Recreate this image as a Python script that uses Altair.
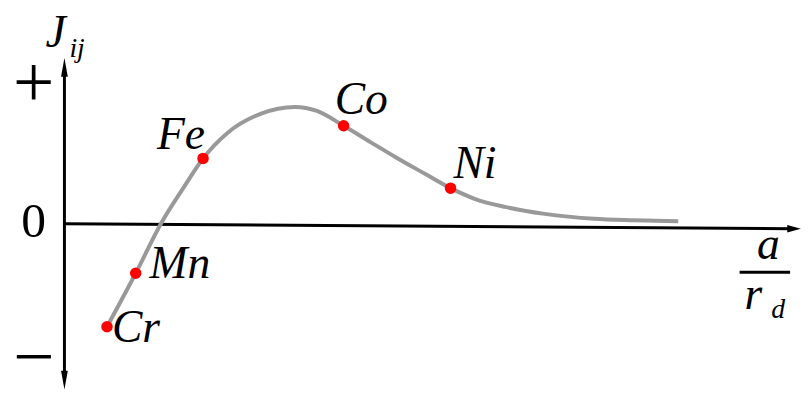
import altair as alt
import pandas as pd

# Bethe–Slater curve (arbitrary units: a/r_d across, J_ij up)
curve_x = [0.42, 0.71, 0.97, 1.19, 1.39, 1.64, 1.97, 2.32, 2.54, 2.81,
           3.09, 3.34, 3.64, 3.89, 4.14, 4.44, 4.84, 5.34, 5.74, 6.19]
curve_y = [-1.05, -0.51, 0.00, 0.35, 0.65, 0.91, 1.10, 1.17, 1.13, 0.98,
           0.81, 0.66, 0.49, 0.35, 0.24, 0.16, 0.09, 0.04, 0.025, 0.015]

elements = ["Cr", "Mn", "Fe", "Co", "Ni"]
elem_x = [0.42, 0.71, 1.39, 2.81, 3.89]
elem_y = [-1.05, -0.51, 0.65, 0.98, 0.35]

W, H = 801, 386
XS = alt.Scale(domain=[-0.58, 7.43], nice=False, zero=False)
YS = alt.Scale(domain=[-1.71, 2.15], nice=False, zero=False)
FONT_IT = "Nimbus Roman"
FONT = "Liberation Serif"


def X(f="u"):
    return alt.X(f"{f}:Q", scale=XS, axis=None)


def Y(f="v"):
    return alt.Y(f"{f}:Q", scale=YS, axis=None)


curve_df = pd.DataFrame({"u": curve_x, "v": curve_y})
elem_df = pd.DataFrame({"u": elem_x, "v": elem_y, "name": elements})

curve = alt.Chart(curve_df).mark_line(
    color="#999999", strokeWidth=4, interpolate="monotone", strokeCap="butt"
).encode(x=X(), y=Y())

dots = alt.Chart(elem_df).mark_point(
    filled=True, opacity=1, color="#ff0000", size=135, shape="circle"
).encode(x=X(), y=Y())

# label offsets (pixels) relative to each point
offsets = {
    "Cr": dict(align="left", dx=5, dy=15),
    "Mn": dict(align="left", dx=14, dy=5),
    "Fe": dict(align="right", dx=2, dy=-10),
    "Co": dict(align="left", dx=-9, dy=-12),
    "Ni": dict(align="left", dx=3, dy=-10),
}
labels = []
for name, o in offsets.items():
    labels.append(
        alt.Chart(elem_df).transform_filter(alt.datum.name == name).mark_text(
            font=FONT_IT, fontSize=46, fontStyle="italic", baseline="alphabetic",
            color="black", **o
        ).encode(x=X(), y=Y(), text="name:N")
    )

# axes
xaxis = alt.Chart(pd.DataFrame({"u": [-0.01], "u2": [7.33], "v": [-0.01], "v2": [-0.06]})).mark_rule(
    color="black", strokeWidth=3
).encode(x=X(), x2="u2:Q", y=Y(), y2="v2:Q")
yaxis = alt.Chart(pd.DataFrame({"u": [-0.01], "v": [-1.52], "v2": [1.50]})).mark_rule(
    color="black", strokeWidth=3
).encode(x=X(), y=Y(), y2="v2:Q")

UP = "M0,-1L0.36,1L-0.36,1Z"
DOWN = "M0,1L0.36,-1L-0.36,-1Z"
RIGHT = "M1,0L-1,0.55L-1,-0.55Z"


def head(u, v, shape, size):
    return alt.Chart(pd.DataFrame({"u": [u], "v": [v]})).mark_point(
        shape=shape, size=size, filled=True, opacity=1, color="black", strokeWidth=0
    ).encode(x=X(), y=Y())


heads = [
    head(-0.01, 1.57, UP, 360),
    head(-0.01, -1.59, DOWN, 360),
    head(7.36, -0.06, RIGHT, 190),
]


def txt(s, u, v, size, align="left", italic=True):
    return alt.Chart(pd.DataFrame({"u": [u], "v": [v], "t": [s]})).mark_text(
        font=FONT_IT if italic else FONT, fontSize=size,
        fontStyle="italic" if italic else "normal",
        align=align, baseline="alphabetic", color="black"
    ).encode(x=X(), y=Y(), text="t:N")


texts = [
    txt("J", -0.20, 1.78, 46),
    txt("ij", 0.04, 1.67, 28),
    txt("+", -0.32, 1.17, 74, align="center", italic=False),
    txt("0", -0.32, -0.14, 50, align="center", italic=False),
    txt("\u2212", -0.32, -1.60, 74, align="center", italic=False),
    txt("a", 7.10, -0.37, 46, align="center"),
    txt("r", 6.86, -0.87, 46),
    txt("d", 7.13, -0.96, 28),
]

frac = alt.Chart(pd.DataFrame({"u": [6.81], "u2": [7.32], "v": [-0.50]})).mark_rule(
    color="black", strokeWidth=3
).encode(x=X(), x2="u2:Q", y=Y())

chart = alt.layer(
    xaxis, yaxis, *heads, frac, curve, dots, *labels, *texts
).properties(
    width=W, height=H, autosize=alt.AutoSizeParams(type="none"), padding=0,
    background="white"
).configure_view(stroke=None)

chart.save("out.html", embed_options={"renderer": "svg", "actions": False})
